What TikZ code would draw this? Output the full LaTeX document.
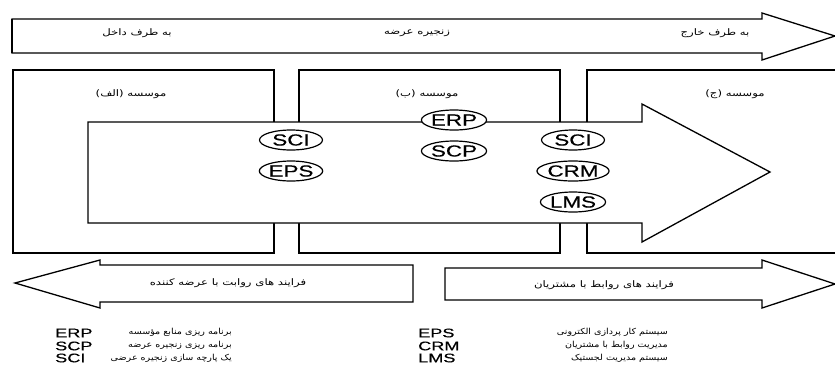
\documentclass[tikz,border=0pt]{standalone}
\usepackage{fontspec}
\setmainfont{Liberation Sans}
\newfontfamily\tagfont[FakeStretch=1.4,FakeBold=0.4]{Liberation Sans}
\newfontfamily\abbrfont[FakeStretch=1.45,FakeBold=0.4]{Liberation Sans}
\newfontfamily\fa[Script=Arabic,FakeStretch=1.3]{DejaVu Sans}
\newfontfamily\falg[Script=Arabic,FakeStretch=1.15]{DejaVu Sans}
\TeXXeTstate=1
\usetikzlibrary{shapes.geometric}
\tikzset{
  boxline/.style={draw, line width=2.2pt},
  arrowline/.style={draw, line width=1.3pt, fill=white, line join=miter},
  tag/.style={ellipse, draw, line width=1.2pt, fill=white, minimum width=63pt, minimum height=20pt, inner sep=0pt, font=\tagfont\fontsize{16}{16}\selectfont},
  fatext/.style={font=\fa\fontsize{9}{10}\selectfont, inner sep=0pt},
  legtext/.style={font=\falg\fontsize{8.3}{9}\selectfont, inner sep=0pt, anchor=east},
  abbr/.style={font=\abbrfont\fontsize{12.5}{12.5}\selectfont, inner sep=0pt, anchor=west},
}
\begin{document}
\begin{tikzpicture}[x=1pt,y=-1pt]
\clip (0,0) rectangle (835,365);
% top arrow
\draw[arrowline] (12,19) -- (762,19) -- (762,13) -- (835,36) -- (762,60) -- (762,53) -- (12,53) -- cycle;
\draw[line width=2.2pt] (12,19) -- (12,53);
\node[fatext] (in) at (137,33) {\beginR به طرف داخل\endR};
\node[fatext] (sc) at (417,33) {\beginR زنجیره عرضه\endR};
\node[fatext] (out) at (715,33) {\beginR به طرف خارج\endR};
% boxes
\draw[boxline] (13,70) rectangle (274,253);
\draw[boxline] (299,70) rectangle (560,253);
\draw[boxline] (587,70) rectangle (860,253);
\node[fatext] (la) at (131,94) {\beginR موسسه (الف)\endR};
\node[fatext] (lb) at (427,94) {\beginR موسسه (ب)\endR};
\node[fatext] (lc) at (735,94) {\beginR موسسه (ج)\endR};
% big arrow
\draw[arrowline] (88,122) -- (642,122) -- (642,104) -- (770,172) -- (642,242) -- (642,223) -- (88,223) -- cycle;
\node[tag] (sci1) at (291,140) {SCI};
\node[tag] (eps) at (291,171) {EPS};
\node[tag] (erp) at (454,120) {ERP};
\node[tag] (scp) at (454,151) {SCP};
\node[tag] (sci2) at (573,140) {SCI};
\node[tag] (crm) at (573,171) {CRM};
\node[tag] (lms) at (573,202) {LMS};
% bottom arrows
\draw[arrowline] (15,283) -- (100,260) -- (100,265) -- (413,265) -- (413,302) -- (100,302) -- (100,308) -- cycle;
\node[fatext] (sup) at (228,283) {\beginR فرایند های روابت با عرضه کننده\endR};
\draw[arrowline] (445,268) -- (762,268) -- (762,260) -- (835,284) -- (762,308) -- (762,300) -- (445,300) -- cycle;
\node[fatext] (cus) at (604,285) {\beginR فرایند های روابط با مشتریان\endR};
% legend
\node[abbr] (a1) at (55,333) {ERP};
\node[abbr] (a2) at (55,346) {SCP};
\node[abbr] (a3) at (55,358) {SCI};
\node[legtext] (d1) at (232,332) {\beginR برنامه ریزی منابع مؤسسه\endR};
\node[legtext] (d2) at (232,345) {\beginR برنامه ریزی زنجیره عرضه\endR};
\node[legtext] (d3) at (232,358) {\beginR یک پارچه سازی زنجیره عرضی\endR};
\node[abbr] (b1) at (418,333) {EPS};
\node[abbr] (b2) at (418,346) {CRM};
\node[abbr] (b3) at (418,358) {LMS};
\node[legtext] (e1) at (668,332) {\beginR سیستم کار پردازی الکترونی\endR};
\node[legtext] (e2) at (668,345) {\beginR مدیریت روابط با مشتریان\endR};
\node[legtext] (e3) at (668,358) {\beginR سیستم مدیریت لجستیک\endR};
\end{tikzpicture}
\end{document}
